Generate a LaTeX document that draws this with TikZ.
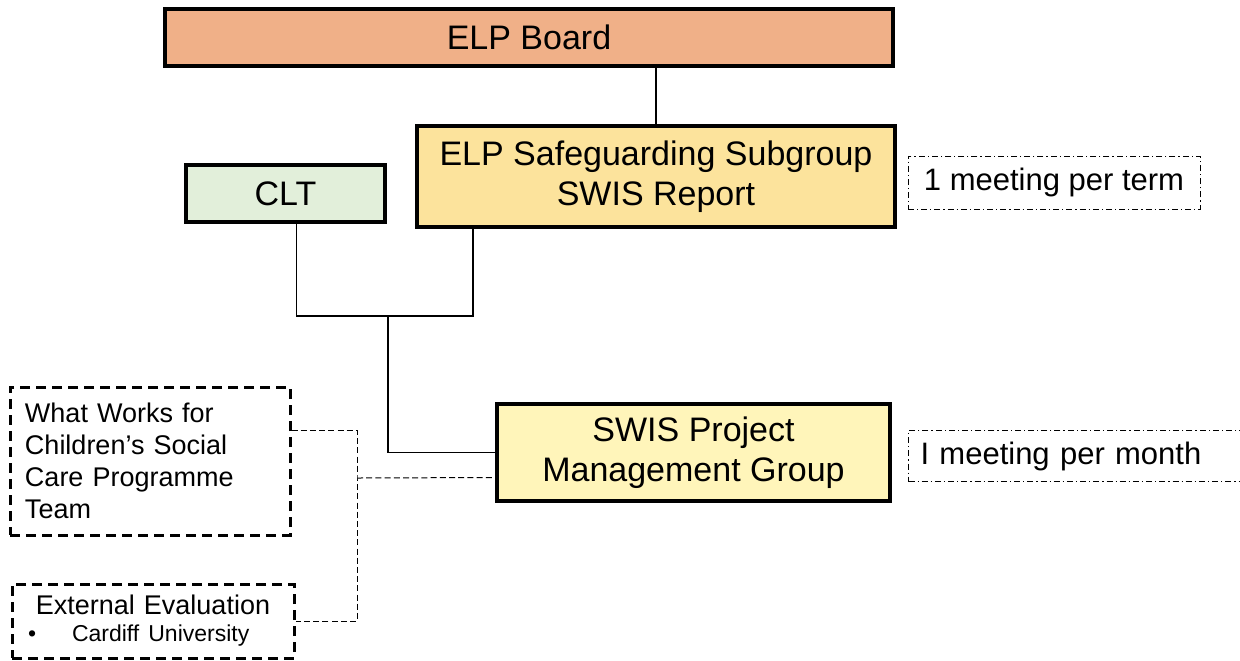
\documentclass[tikz,border=0pt]{standalone}
\usepackage{fontspec}
\setmainfont{Liberation Sans}
\definecolor{boardfill}{HTML}{F0B088}
\definecolor{subfill}{HTML}{FCE39C}
\definecolor{cltfill}{HTML}{E2EFDA}
\definecolor{pmgfill}{HTML}{FFF5BA}
\tikzset{
  unit/.style={draw=black, line width=1.6pt, align=center, inner sep=2pt,
    font=\fontsize{17}{20}\selectfont},
  meetbox/.style={draw=black, line width=0.5pt, dash pattern=on 3pt off 1.5pt on 0.6pt off 1.5pt,
    font=\fontsize{15.5}{18}\selectfont},
  partner/.style={draw=black, line width=1.5pt, dash pattern=on 5pt off 3pt,
    align=left, inner ysep=2pt},
  link/.style={draw=black, line width=0.6pt},
  dashlink/.style={draw=black, line width=0.5pt, dash pattern=on 3pt off 1.6pt}
}
\begin{document}
\begin{tikzpicture}[x=0.5pt,y=-0.5pt]
      \useasboundingbox (0,0) rectangle (1240,660);
      \node [unit, fill=boardfill, minimum width=364pt, minimum height=28.5pt] (board) at (529,37.5) {ELP Board};
      \node [unit, fill=subfill, minimum width=239pt, minimum height=50.5pt] (subgroup) at (656,176.5) {ELP Safeguarding Subgroup\\SWIS Report};
      \node [unit, fill=cltfill, minimum width=99.5pt, minimum height=28.5pt] (clt) at (285.5,193.5) {CLT};
      \node [unit, fill=pmgfill, minimum width=196.5pt, minimum height=48.5pt] (pmg) at (693.5,452.5) {SWIS Project\\Management Group};
      \node [meetbox, minimum width=146pt, minimum height=26.5pt] (term) at (1054,182.5) {1 meeting per term};
      \node [meetbox, anchor=west, text width=165pt, inner xsep=6pt, align=left, minimum height=25.5pt] (month) at (908,456) {I meeting per month};
      \node [partner, text width=125pt, inner xsep=7.5pt, minimum height=74pt,
        font=\fontsize{13.5}{16}\selectfont] (works) at (150,461)
        {What Works for\\Children’s Social\\Care Programme\\Team};
      \node [partner, text width=133pt, inner xsep=4pt, minimum height=37pt,
        font=\fontsize{13.5}{13.5}\selectfont] (ext) at (153,621)
        {\makebox[\linewidth]{External Evaluation}\\
         {\fontsize{11.5}{13}\selectfont\hspace*{4pt}\textbullet\hspace{18pt}Cardiff University}};
      \coordinate (mid) at (388,316);
      \coordinate (split) at (357,478);
      \draw [link] (subgroup.north) -- (subgroup.north |- board.south);
      \draw [link] ([xshift=5.5pt]clt.south) |- (mid);
      \draw [link] (mid) -| ([xshift=-91.5pt]subgroup.south);
      \draw [link] (mid) |- (pmg.west);
      \draw [dashlink] ([yshift=15.5pt]works.east) -| (split) |- (ext.east);
      \draw [dashlink] (split) -- ([yshift=-12.5pt]pmg.west);
    \end{tikzpicture}
\end{document}
